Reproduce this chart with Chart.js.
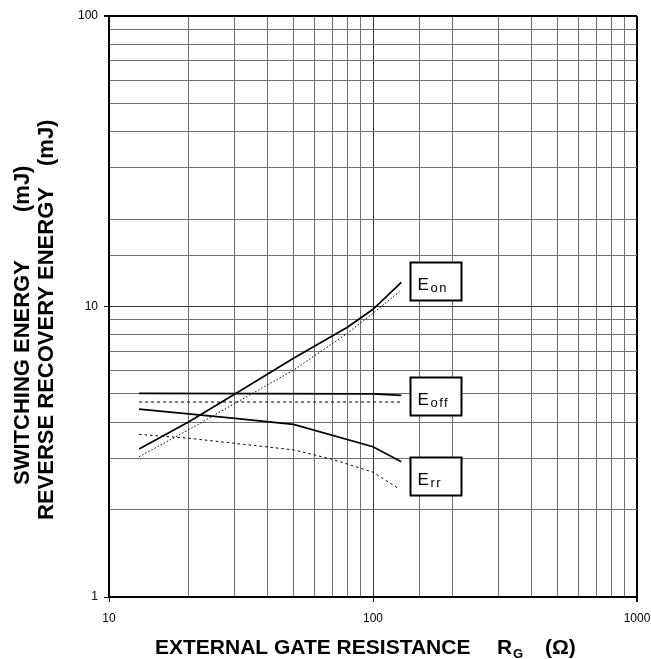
<!DOCTYPE html>
<html>
<head>
<meta charset="utf-8">
<script src="https://cdn.jsdelivr.net/npm/chart.js@4.4.1/dist/chart.umd.min.js"></script>
<style>
  html, body { margin: 0; padding: 0; background: #fff; }
  #wrap { width: 651px; height: 659px; position: relative; }
</style>
</head>
<body>
<div id="wrap"><canvas id="chart"></canvas></div>
<script>
// values (x = gate resistance in ohm, y = energy in mJ)
const eonX = [13, 20, 30, 50, 80, 100, 128];
const eonY = [3.23, 4.0, 5.0, 6.63, 8.48, 9.78, 12.1];
const eonDotX = [13, 20, 30, 50, 80, 100, 126];
const eonDotY = [3.04, 3.76, 4.64, 6.04, 8.09, 9.48, 11.25];

const eoffX = [13, 100, 128];
const eoffY = [5.02, 5.0, 4.94];
const eoffDotX = [13, 128];
const eoffDotY = [4.69, 4.69];

const errX = [13, 20, 30, 50, 100, 128];
const errY = [4.43, 4.27, 4.12, 3.93, 3.29, 2.92];
const errDotX = [13, 20, 30, 50, 70, 100, 126];
const errDotY = [3.63, 3.52, 3.38, 3.21, 2.98, 2.69, 2.35];

// curve labels: subscript text and where the box sits (data units)
const labelSubs = ['on', 'off', 'rr'];
const labelY = [12.2, 4.92, 2.6];
const labelX = 138;

const xMin = 10, xMax = 1000;
const yMin = 1, yMax = 100;

const FONT = '"Liberation Sans", Arial, sans-serif';

function pts(xs, ys) {
  return xs.map((x, i) => ({ x: x, y: ys[i] }));
}

function isDecade(v) {
  const l = Math.log10(v);
  return Math.abs(l - Math.round(l)) < 1e-9;
}

function solid(xs, ys) {
  return { data: pts(xs, ys), borderColor: '#000', borderWidth: 1.7, pointRadius: 0, fill: false, tension: 0 };
}
function dotted(xs, ys, dash) {
  return { data: pts(xs, ys), borderColor: '#000', borderWidth: 1, borderDash: dash, pointRadius: 0, fill: false, tension: 0 };
}

const gridOpts = (maxV) => ({
  color: ctx => (ctx.tick && ctx.tick.value === maxV) ? '#000' : (ctx.tick && isDecade(ctx.tick.value) ? '#333' : '#707070'),
  lineWidth: ctx => (ctx.tick && ctx.tick.value === maxV) ? 2 : 1,
  tickColor: ctx => (ctx.tick && isDecade(ctx.tick.value)) ? '#000' : 'rgba(0,0,0,0)',
  tickLength: 5,
  drawTicks: true
});

// text drawn over the chart: axis titles and curve label boxes
const decorPlugin = {
  id: 'decor',
  afterDraw(chart) {
    const ctx = chart.ctx;
    const xs = chart.scales.x, ys = chart.scales.y;
    ctx.save();
    ctx.fillStyle = '#000';
    ctx.textBaseline = 'alphabetic';
    ctx.textAlign = 'left';

    // x axis title
    ctx.font = 'bold 21px ' + FONT;
    ctx.fillText('EXTERNAL GATE RESISTANCE', 155, 654);
    ctx.fillText('R', 497, 654);
    ctx.fillText('(Ω)', 545, 654);
    ctx.font = 'bold 13px ' + FONT;
    ctx.fillText('G', 513, 658);

    // y axis titles (two lines)
    ctx.font = 'bold 22px ' + FONT;
    ctx.save();
    ctx.translate(29, 0);
    ctx.rotate(-Math.PI / 2);
    ctx.fillText('SWITCHING ENERGY', -485, 0);
    ctx.fillText('(mJ)', -212, 0);
    ctx.restore();
    ctx.save();
    ctx.translate(53, 0);
    ctx.rotate(-Math.PI / 2);
    ctx.fillText('REVERSE RECOVERY ENERGY', -520, 0);
    ctx.fillText('(mJ)', -166, 0);
    ctx.restore();

    // label boxes
    const bw = 51, bh = 38;
    labelSubs.forEach((sub, i) => {
      const left = Math.round(xs.getPixelForValue(labelX)) + 0.5;
      const top = Math.round(ys.getPixelForValue(labelY[i]) - bh / 2) + 0.5;
      ctx.fillStyle = '#fff';
      ctx.fillRect(left, top, bw, bh);
      ctx.strokeStyle = '#000';
      ctx.lineWidth = 2;
      ctx.strokeRect(left, top, bw, bh);
      ctx.fillStyle = '#000';
      ctx.font = '17px ' + FONT;
      ctx.fillText('E', left + 7, top + 27);
      ctx.font = '13px ' + FONT;
      ctx.letterSpacing = '1.5px';
      ctx.fillText(sub, left + 20, top + 29);
      ctx.letterSpacing = '0px';
    });
    ctx.restore();
  }
};

new Chart(document.getElementById('chart'), {
  type: 'line',
  data: {
    datasets: [
      solid(eonX, eonY),
      dotted(eonDotX, eonDotY, [1.5, 2]),
      solid(eoffX, eoffY),
      dotted(eoffDotX, eoffDotY, [3, 3]),
      solid(errX, errY),
      dotted(errDotX, errDotY, [2.5, 3])
    ]
  },
  options: {
    responsive: true,
    maintainAspectRatio: false,
    animation: false,
    layout: { padding: { top: 16, right: 14, left: 0, bottom: 0 } },
    plugins: { legend: { display: false }, tooltip: { enabled: false } },
    scales: {
      x: {
        type: 'logarithmic',
        min: xMin, max: xMax,
        grid: gridOpts(xMax),
        border: { color: '#000', width: 2 },
        ticks: {
          autoSkip: false, maxRotation: 0, padding: 9,
          color: '#000', font: { family: FONT, size: 12 },
          callback: v => isDecade(v) ? String(v) : ''
        },
        afterFit: s => { s.height = 62; s.paddingLeft = 0; s.paddingRight = 0; }
      },
      y: {
        type: 'logarithmic',
        min: yMin, max: yMax,
        grid: gridOpts(yMax),
        border: { color: '#000', width: 2 },
        ticks: {
          autoSkip: false, padding: 6,
          color: '#000', font: { family: FONT, size: 12 },
          callback: v => isDecade(v) ? String(v) : ''
        },
        afterFit: s => { s.width = 109; s.paddingTop = 0; s.paddingBottom = 0; }
      }
    }
  },
  plugins: [decorPlugin]
});
</script>
</body>
</html>
